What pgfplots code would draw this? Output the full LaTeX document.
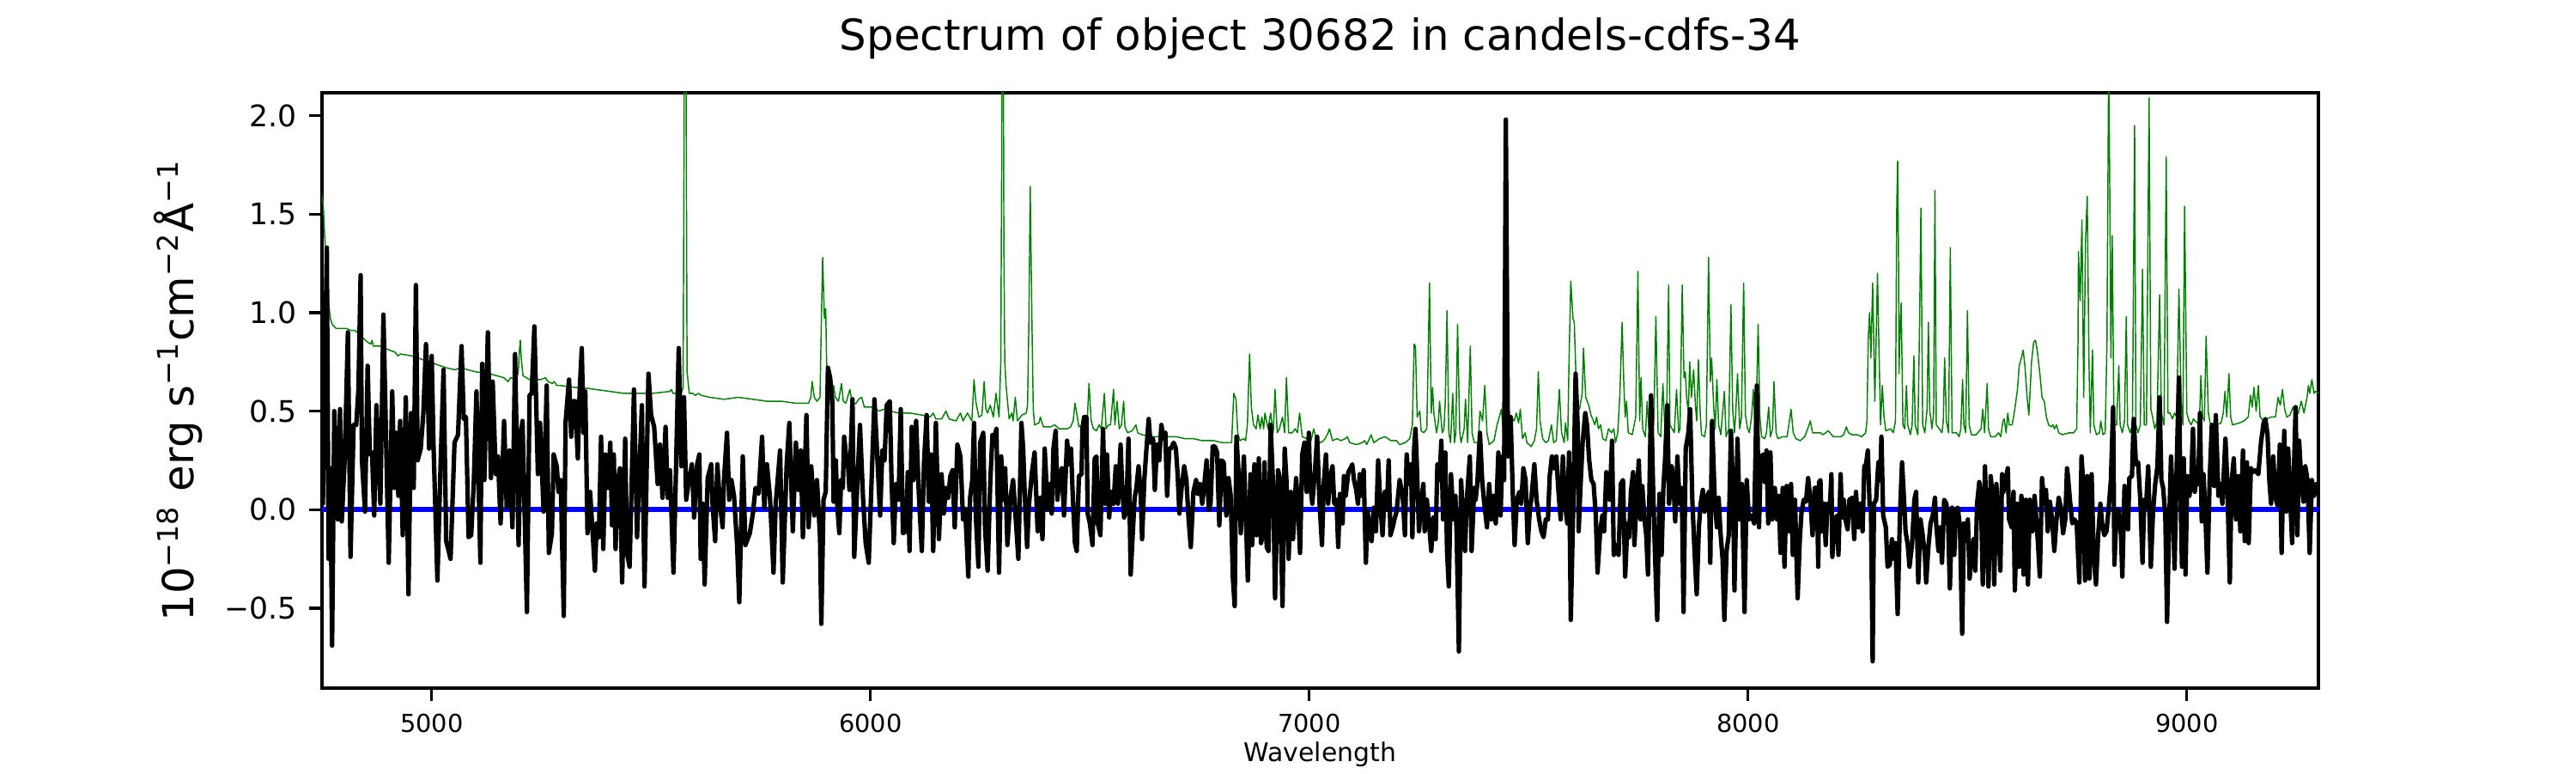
\documentclass[border=0pt]{standalone}
\usepackage{fontspec}
\setmainfont{DejaVu Sans}
\usepackage{pgfplots}
\pgfplotsset{compat=1.18}
\definecolor{mplgreen}{HTML}{008000}
\begin{document}
\begin{tikzpicture}
\useasboundingbox (0,0) rectangle (722.7pt,216.81pt);
\begin{axis}[
  at={(90.34pt,23.85pt)}, anchor=south west,
  width=560.1pt, height=166.95pt, scale only axis,
  xmin=4750, xmax=9300, ymin=-0.906, ymax=2.116,
  axis line style={line width=0.8pt},
  tick pos=left, tick align=outside,
  major tick length=3.5pt,
  every tick/.style={line width=0.8pt, black},
  xtick={5000,6000,7000,8000,9000},
  xticklabels={5000,6000,7000,8000,9000},
  ytick={-0.5,0,0.5,1,1.5,2},
  yticklabels={−0.5,0.0,0.5,1.0,1.5,2.0},
  xticklabel style={font=\fontsize{6.94}{8}\selectfont, inner sep=0pt, anchor=north, yshift=-3.5pt},
  yticklabel style={font=\fontsize{8.33}{10}\selectfont, inner sep=0pt, anchor=east, xshift=-3.5pt},
  title={Spectrum of object 30682 in candels-cdfs-34},
  title style={font=\fontsize{12}{14}\selectfont, at={(axis description cs:0.5,1.035)}, anchor=base, inner sep=0pt},
  xlabel={Wavelength},
  xlabel style={font=\fontsize{7.2}{8.5}\selectfont, at={(axis description cs:0.5,-0.124)}, anchor=base, inner sep=0pt},
  ylabel={10\textsuperscript{−18} erg s\textsuperscript{−1}cm\textsuperscript{−2}Å\textsuperscript{−1}},
  ylabel style={font=\fontsize{12}{14}\selectfont, at={(axis description cs:-0.0641,0.5)}, anchor=base, inner sep=0pt},
]
% sky / noise spectrum (green)
\addplot[mplgreen, line width=0.35pt, line join=round] coordinates {
(4750,1.60)(4753,1.54)(4756,1.39)(4760,1.25)(4763,1.11)(4766,1.03)(4769,0.97)(4773,0.94)(4782,0.92)(4792,0.92)(4805,0.92)(4815,0.91)(4825,0.91)(4835,0.89)(4844,0.87)(4854,0.85)(4861,0.84)(4864,0.86)(4867,0.83)(4883,0.83)(4903,0.81)(4916,0.80)(4923,0.78)(4929,0.79)(4955,0.78)(4981,0.76)(5007,0.74)(5033,0.72)(5053,0.71)(5066,0.72)(5099,0.70)(5131,0.69)(5164,0.67)(5174,0.65)(5180,0.67)(5190,0.66)(5197,0.69)(5200,0.81)(5202,0.86)(5204,0.77)(5208,0.68)(5223,0.66)(5249,0.66)(5259,0.67)(5265,0.65)(5275,0.64)(5279,0.65)(5285,0.63)(5294,0.63)(5327,0.62)
(5340,0.62)(5373,0.61)(5406,0.60)(5438,0.59)(5471,0.59)(5503,0.59)(5543,0.60)(5546,0.61)(5550,0.59)(5569,0.59)(5573,0.62)(5575,1.80)(5577,3.50)(5580,2.00)(5582,0.70)(5587,0.59)(5595,0.59)(5601,0.58)(5608,0.59)(5614,0.58)(5634,0.57)(5666,0.56)(5699,0.57)(5732,0.56)(5764,0.55)(5797,0.55)(5830,0.54)(5859,0.54)(5864,0.57)(5867,0.65)(5872,0.57)(5878,0.55)(5885,0.57)(5888,0.95)(5891,1.28)
(5895,0.97)(5898,1.02)(5900,0.75)(5905,0.57)(5911,0.59)(5916,0.63)(5920,0.57)(5927,0.55)(5934,0.64)(5938,0.55)(5944,0.54)(5953,0.61)(5959,0.53)(5967,0.54)(5973,0.56)(5980,0.57)(5986,0.52)(6006,0.52)(6019,0.50)(6032,0.51)(6045,0.50)(6064,0.49)(6090,0.49)(6117,0.48)(6136,0.47)(6143,0.49)(6149,0.46)(6162,0.46)(6172,0.50)(6179,0.46)(6195,0.45)(6205,0.49)(6211,0.45)(6221,0.49)(6231,0.45)(6236,0.66)(6240,0.55)(6247,0.47)(6254,0.48)(6259,0.65)(6263,0.51)(6267,0.49)(6273,0.53)(6280,0.47)(6286,0.59)(6293,0.47)(6297,0.75)(6299,1.75)(6300,3.50)(6302,3.00)(6304,1.35)(6306,0.75)(6309,0.63)(6316,0.46)(6322,0.49)(6325,0.45)(6330,0.57)(6335,0.45)(6345,0.48)(6355,0.49)(6358,0.53)(6361,0.95)(6364,1.64)(6368,0.95)(6371,0.51)(6374,0.43)(6384,0.44)(6387,0.47)(6394,0.42)(6410,0.42)(6420,0.43)(6430,0.41)(6449,0.41)
(6456,0.42)(6462,0.45)(6466,0.54)(6470,0.49)(6475,0.42)(6482,0.43)(6488,0.40)(6494,0.45)(6498,0.64)(6503,0.45)(6508,0.41)(6515,0.40)(6521,0.43)(6526,0.41)(6533,0.59)(6537,0.41)(6542,0.43)(6547,0.43)(6554,0.61)(6557,0.43)(6562,0.55)(6567,0.41)(6572,0.43)(6577,0.55)(6580,0.42)(6586,0.39)(6596,0.40)(6605,0.43)(6609,0.39)(6619,0.38)(6639,0.37)(6658,0.37)(6678,0.37)(6697,0.37)(6717,0.36)(6736,0.36)(6756,0.35)(6782,0.35)(6802,0.34)(6823,0.34)(6828,0.59)(6833,0.56)(6837,0.39)(6842,0.35)(6850,0.36)(6855,0.35)(6859,0.43)(6864,0.79)(6868,0.52)(6873,0.43)(6879,0.41)(6883,0.48)(6888,0.41)(6892,0.47)(6896,0.41)(6899,0.49)(6906,0.41)(6912,0.49)(6918,0.39)(6922,0.61)(6927,0.39)(6932,0.41)(6939,0.47)(6944,0.39)(6948,0.67)(6953,0.39)(6961,0.39)(6968,0.41)(6973,0.39)(6978,0.49)(6984,0.37)(6994,0.36)(7004,0.35)(7010,0.41)(7017,0.35)
(7027,0.34)(7036,0.36)(7043,0.39)(7046,0.41)(7053,0.35)(7063,0.36)(7072,0.35)(7082,0.36)(7087,0.37)(7092,0.34)(7108,0.33)(7121,0.34)(7126,0.35)(7131,0.33)(7141,0.38)(7147,0.34)(7160,0.36)(7173,0.37)(7186,0.35)(7199,0.35)(7206,0.33)(7219,0.34)(7229,0.36)(7235,0.43)(7239,0.84)(7242,0.83)(7246,0.47)(7252,0.50)(7255,0.40)(7261,0.39)(7268,0.41)(7274,1.15)(7278,0.49)(7281,0.62)(7284,0.49)(7290,0.39)(7294,0.44)(7297,0.55)(7303,0.39)(7307,0.41)(7310,0.55)(7314,1.01)(7318,0.39)(7322,0.34)(7327,0.59)(7331,0.34)(7334,0.39)(7338,0.94)(7343,0.39)(7346,0.34)(7353,0.41)(7356,0.56)(7361,0.34)(7367,0.83)(7371,0.39)(7376,0.34)(7385,0.34)(7389,0.50)(7395,0.45)(7400,0.63)(7405,0.39)(7410,0.33)(7421,0.35)(7428,0.43)(7438,0.51)(7444,0.34)(7454,0.41)(7460,0.47)(7467,0.45)(7472,0.49)(7477,0.44)(7481,0.51)(7486,0.36)(7492,0.39)(7496,0.34)(7506,0.32)(7513,0.35)(7518,0.41)(7522,0.70)(7526,0.45)(7532,0.36)(7539,0.34)(7545,0.35)(7552,0.43)(7557,0.34)(7563,0.35)(7570,0.61)(7575,0.39)(7581,0.34)(7584,0.44)(7589,0.35)(7592,0.75)
(7596,1.16)(7601,0.97)(7604,0.95)(7610,0.52)(7616,0.51)(7622,0.59)(7625,0.82)(7630,0.57)(7637,0.53)(7642,0.48)(7646,0.46)(7651,0.43)(7655,0.47)(7659,0.41)(7664,0.43)(7669,0.36)(7676,0.35)(7682,0.41)(7689,0.39)(7694,0.41)(7698,0.34)(7703,0.39)(7708,0.59)(7713,0.95)(7717,0.63)(7720,0.47)(7723,0.55)(7727,0.39)(7736,0.38)(7744,0.47)(7749,1.21)(7753,0.45)(7756,0.67)(7760,0.41)(7766,0.37)(7770,0.55)(7774,0.41)(7780,0.39)(7785,0.43)(7790,0.98)(7795,0.39)(7801,0.37)(7806,0.64)(7810,0.43)(7814,0.41)(7819,1.14)(7822,0.43)(7832,0.39)(7837,0.61)(7842,0.39)(7845,0.41)(7850,1.14)(7854,0.67)(7857,0.70)(7860,0.57)(7864,0.49)(7867,0.75)(7871,0.57)(7876,0.71)(7880,0.53)(7883,0.45)(7887,0.76)(7891,0.49)(7894,0.38)(7901,0.37)(7905,0.43)(7910,1.28)(7914,0.65)(7917,0.77)(7922,0.51)(7925,0.41)(7929,0.66)(7933,0.43)(7938,0.38)(7946,0.60)(7950,0.37)(7956,0.41)(7961,1.04)(7965,0.51)(7969,0.39)(7972,0.49)(7976,0.69)(7981,0.41)(7985,0.47)(7990,1.15)(7994,0.48)(7999,0.41)(8003,0.39)(8008,0.47)(8012,0.61)(8016,0.41)(8019,0.53)(8023,0.94)(8027,0.47)(8031,0.37)(8038,0.36)(8042,0.39)(8047,0.52)(8051,0.37)(8056,0.41)(8059,0.65)(8064,0.39)(8068,0.36)(8079,0.37)(8089,0.37)(8093,0.43)(8098,0.51)(8103,0.39)(8109,0.36)(8119,0.35)(8129,0.37)(8136,0.41)(8142,0.45)(8147,0.39)(8158,0.39)
(8165,0.39)(8171,0.38)(8183,0.40)(8194,0.37)(8211,0.37)(8218,0.38)(8224,0.42)(8229,0.39)(8237,0.38)(8250,0.38)(8259,0.37)(8268,0.39)(8271,0.45)(8274,0.87)(8277,1.00)(8280,0.77)(8284,1.15)(8289,0.55)(8292,0.87)(8295,1.20)(8299,0.75)(8302,0.43)(8306,0.63)(8310,0.47)(8314,0.40)(8325,0.41)(8331,0.39)(8336,0.45)(8339,1.55)(8341,1.77)(8343,1.25)(8344,0.69)(8347,0.95)(8349,1.05)(8353,0.43)(8357,0.41)(8361,0.63)(8364,0.43)(8370,0.38)(8374,0.43)(8378,0.78)(8381,0.43)(8387,0.38)(8391,0.95)(8394,1.53)(8398,0.43)(8403,0.39)(8408,0.51)(8411,0.95)(8414,0.51)(8419,0.41)(8423,0.49)(8426,1.62)(8429,0.43)(8436,0.41)(8442,0.39)(8445,0.45)(8448,0.77)(8452,0.45)(8457,0.39)(8461,1.33)(8465,0.39)(8475,0.39)(8481,0.37)(8485,0.41)(8489,0.66)(8492,0.43)(8496,0.39)(8500,1.01)(8504,0.43)(8509,0.38)(8520,0.38)(8531,0.41)(8535,0.51)(8539,0.39)(8545,0.64)(8548,0.41)(8553,0.37)(8563,0.37)(8571,0.39)(8576,0.37)(8581,0.45)(8584,0.46)(8588,0.39)(8592,0.49)(8595,0.43)(8602,0.43)(8608,0.51)(8614,0.61)(8618,0.73)(8623,0.77)(8627,0.81)(8631,0.73)(8636,0.57)(8640,0.48)(8643,0.61)(8646,0.75)(8651,0.85)(8655,0.86)(8659,0.81)(8662,0.75)(8666,0.67)(8670,0.57)(8675,0.55)(8680,0.47)(8685,0.43)(8690,0.42)(8695,0.43)(8698,0.41)(8703,0.43)(8708,0.39)(8716,0.38)(8732,0.39)
(8742,0.39)(8749,0.41)(8752,0.85)(8753,1.31)(8757,1.06)(8761,1.47)(8765,0.57)(8769,1.35)(8773,1.59)(8777,0.75)(8780,0.39)(8785,0.81)(8788,0.43)(8794,0.38)(8801,0.39)(8804,0.45)(8809,0.38)(8814,0.39)(8818,0.85)(8821,1.95)(8822,2.30)(8824,1.75)(8827,0.77)(8830,1.39)(8834,0.43)(8840,0.43)(8845,0.73)(8848,0.43)(8853,0.39)(8858,0.45)(8862,0.98)(8865,0.43)(8871,0.39)(8876,0.43)(8881,1.95)(8884,0.43)(8889,0.39)(8894,0.43)(8899,1.22)(8903,0.43)(8908,0.43)(8914,2.09)(8918,0.51)(8922,0.47)(8927,0.41)(8932,0.45)(8938,1.09)(8942,0.49)(8948,0.43)(8953,1.79)(8957,0.49)(8962,0.49)(8967,0.46)(8972,0.49)(8977,0.47)(8982,1.12)(8987,0.55)(8991,0.43)(8995,1.54)(9000,0.49)(9005,0.45)(9010,0.43)(9015,0.46)(9019,0.45)(9025,0.44)(9029,0.46)(9032,0.68)(9036,0.47)(9040,0.45)(9044,0.88)(9049,0.49)(9053,0.44)(9058,0.43)(9068,0.43)(9078,0.44)(9083,0.49)(9087,0.60)(9091,0.47)(9096,0.69)(9100,0.47)(9104,0.43)(9120,0.44)(9130,0.45)(9140,0.47)(9145,0.58)(9149,0.52)(9153,0.62)(9158,0.50)(9163,0.63)(9167,0.47)(9175,0.45)(9182,0.46)(9192,0.47)(9202,0.47)(9208,0.57)(9213,0.53)(9218,0.61)(9223,0.51)(9228,0.47)(9235,0.48)(9242,0.52)(9248,0.47)(9254,0.49)(9261,0.55)(9267,0.49)(9274,0.57)(9277,0.63)(9280,0.59)(9285,0.66)(9290,0.59)(9293,0.60)(9300,0.59)
};
% zero line (blue)
\addplot[blue, line width=1.5pt] coordinates {(4750,0) (9300,0)};
% object flux (black)
\addplot[black, line width=1.25pt, line join=round] coordinates {
(4750,0.05)(4752,0.03)(4761,1.33)(4765,-0.25)(4769,0.21)(4773,-0.69)(4778,0.50)(4782,0.23)(4786,-0.05)(4791,0.51)(4795,-0.06)(4802,0.27)(4809,0.90)(4815,-0.24)(4822,0.43)(4828,0.43)(4833,0.61)(4838,1.19)(4841,0.25)(4848,-0.01)(4854,0.73)(4859,0.28)(4864,0.29)(4869,-0.03)(4874,0.53)(4883,0.03)(4890,0.99)(4902,-0.27)(4910,0.60)(4915,0.11)(4919,0.39)(4924,0.07)(4928,0.45)(4934,-0.13)(4941,0.57)(4947,-0.43)(4953,0.49)(4959,0.11)(4964,1.14)(4968,0.25)(4975,0.31)(4981,0.49)(4987,0.84)(4991,0.63)(4994,0.31)(5000,0.78)(5004,0.34)(5013,-0.36)(5020,0.21)(5027,0.71)(5033,-0.16)(5043,-0.25)(5052,0.34)(5060,0.38)(5068,0.83)(5073,0.46)(5078,0.47)(5084,-0.14)(5090,-0.13)(5096,0.14)(5102,0.60)(5111,-0.27)(5115,0.74)(5120,0.15)(5128,0.90)(5135,0.16)(5139,0.65)(5146,0.18)(5151,0.27)(5157,-0.07)(5165,0.45)(5171,0.01)(5177,0.30)(5184,-0.09)(5190,0.79)(5198,-0.18)(5203,0.39)(5207,0.45)(5217,-0.52)(5223,0.58)(5228,0.59)(5234,0.93)(5242,0.18)(5247,0.44)(5255,-0.01)(5262,0.63)(5267,-0.22)(5274,-0.12)(5278,0.28)(5285,0.22)(5289,0.09)(5294,0.15)(5301,-0.54)(5305,0.44)
(5313,0.66)(5318,0.37)(5322,0.55)(5327,0.55)(5333,0.26)(5337,0.59)(5342,0.82)(5346,0.39)(5350,0.60)(5355,-0.12)(5361,0.09)(5366,-0.09)(5372,-0.31)(5376,-0.07)(5381,-0.14)(5386,0.37)(5391,-0.20)(5396,0.28)(5402,0.11)(5407,0.34)(5411,-0.08)(5415,0.28)(5419,-0.20)(5424,0.14)(5429,0.21)(5434,-0.37)(5441,0.36)(5445,-0.22)(5451,-0.29)(5461,0.61)(5468,-0.14)(5479,0.53)(5485,-0.39)(5494,0.69)(5500,0.48)(5507,0.42)(5515,0.13)(5520,0.33)(5526,0.06)(5533,0.42)(5538,0.06)(5543,0.20)(5551,-0.32)(5556,0.13)(5563,0.82)(5569,0.22)(5575,0.57)(5580,0.05)(5585,0.13)(5593,0.23)(5598,-0.04)(5605,0.23)(5610,0.28)(5613,-0.25)(5618,0.03)(5622,-0.38)(5629,0.16)(5637,0.23)(5640,0.03)(5646,-0.16)(5651,0.23)(5657,0.03)(5663,-0.09)(5666,0.15)(5673,0.39)(5678,0.05)(5683,0.15)(5689,0.07)(5696,-0.18)(5701,-0.47)(5709,0.27)(5715,-0.18)(5725,-0.12)(5732,-0.02)(5738,0.11)(5745,0.08)(5753,0.37)(5758,0.01)(5764,0.23)(5771,0.06)(5779,-0.32)(5784,0.03)(5794,0.30)(5800,-0.37)(5809,0.23)(5815,0.44)(5823,-0.11)(5830,0.34)(5836,0.10)(5841,0.30)(5846,-0.14)(5854,0.48)(5859,-0.09)(5865,0.22)(5872,-0.03)(5878,0.15)(5885,-0.14)(5888,-0.58)
(5893,0.05)(5898,0.09)(5903,0.72)(5908,0.67)(5913,0.55)(5916,0.04)(5921,0.25)(5924,0.03)(5929,-0.12)(5933,0.15)(5937,0.11)(5940,0.37)(5946,0.24)(5948,0.26)(5952,0.10)(5959,0.56)(5963,-0.24)(5970,0.13)(5976,0.43)(5983,0.06)(5989,-0.17)(5996,-0.27)(6001,0.05)(6009,0.56)(6014,0.34)(6022,-0.03)(6027,0.30)(6032,0.25)(6037,0.53)(6044,0.55)(6048,0.15)(6053,-0.17)(6058,0.13)(6064,0.05)(6069,0.51)(6074,-0.12)(6081,-0.11)(6085,0.19)(6089,-0.21)(6094,0.42)(6098,0.15)(6104,0.45)(6110,0.09)(6117,-0.21)(6122,0.24)(6128,0.48)(6133,0.04)(6138,0.28)(6143,-0.21)(6149,0.44)(6156,-0.15)(6162,0.18)(6167,-0.02)(6172,0.11)(6177,0.06)(6182,0.17)(6187,0.20)(6192,-0.09)(6198,0.33)(6205,0.27)(6211,-0.05)(6216,0.00)(6223,-0.34)(6227,0.06)(6232,0.15)(6236,0.44)(6240,-0.03)(6246,-0.29)(6250,0.34)(6257,0.39)(6261,-0.09)(6267,-0.31)(6273,0.14)(6278,0.38)(6283,0.37)(6287,0.41)(6293,-0.32)(6298,0.27)(6302,0.05)(6307,0.21)(6312,-0.18)(6319,0.06)(6325,0.15)(6330,-0.01)(6337,-0.25)(6344,0.44)(6348,0.31)(6351,0.11)(6357,-0.19)(6361,0.02)(6368,0.19)(6374,0.29)(6381,-0.11)(6387,0.06)(6392,-0.15)(6397,0.31)(6404,0.00)(6409,0.13)(6413,-0.02)(6417,0.31)(6422,0.40)(6426,0.05)(6431,0.17)(6436,0.21)(6441,-0.03)
(6448,0.35)(6453,0.23)(6457,0.31)(6461,0.07)(6466,-0.17)(6470,-0.21)(6475,0.17)(6481,0.18)(6483,0.41)(6487,0.47)(6492,0.47)(6495,-0.02)(6500,-0.07)(6506,-0.18)(6511,0.26)(6515,0.27)(6518,-0.07)(6524,-0.13)(6530,0.41)(6534,0.03)(6539,0.28)(6544,-0.04)(6548,0.09)(6554,0.03)(6559,0.22)(6564,0.03)(6570,0.33)(6573,0.15)(6578,-0.04)(6583,-0.01)(6588,0.36)(6593,-0.33)(6598,-0.11)(6602,0.06)(6606,0.11)(6611,0.22)(6616,0.07)(6619,-0.15)(6624,0.15)(6629,0.31)(6634,0.46)(6638,0.34)(6644,0.36)(6648,0.10)(6653,0.33)(6658,0.25)(6663,0.43)(6668,0.36)(6672,0.39)(6676,0.07)(6681,0.31)(6685,0.31)(6691,0.34)(6696,0.31)(6700,0.18)(6704,-0.02)(6709,0.11)(6715,0.22)(6720,0.15)(6725,-0.05)(6730,-0.19)(6736,0.09)(6742,0.15)(6746,0.08)(6751,0.13)(6756,0.03)(6761,0.13)(6766,0.25)(6771,0.00)(6775,0.03)(6780,0.32)(6785,0.32)(6790,0.29)(6795,-0.08)(6800,0.25)(6805,0.24)(6811,-0.03)(6816,0.16)(6821,0.07)(6826,-0.35)(6830,-0.49)(6834,0.37)(6841,0.11)(6844,-0.12)(6851,0.27)(6855,0.00)(6860,-0.36)(6866,0.18)(6870,-0.18)(6875,0.23)(6880,-0.13)(6885,0.26)(6890,-0.17)(6894,-0.13)(6898,0.24)(6903,-0.19)(6907,-0.21)(6912,0.43)(6918,0.10)(6922,-0.45)(6929,0.20)(6933,0.16)(6939,-0.49)(6944,0.31)(6948,0.15)(6953,-0.25)(6958,0.09)(6963,-0.15)(6970,0.16)(6974,0.03)(6979,-0.22)(6984,0.28)(6989,0.34)(6994,0.09)(6999,0.39)(7002,0.13)(7007,0.03)(7014,0.23)
(7018,0.37)(7023,0.05)(7029,-0.18)(7033,0.13)(7038,0.28)(7043,0.03)(7047,0.15)(7053,0.22)(7057,0.03)(7062,0.05)(7066,-0.19)(7070,0.08)(7076,-0.07)(7079,0.17)(7083,0.07)(7089,0.19)(7094,0.21)(7098,0.23)(7102,0.15)(7107,0.10)(7111,0.03)(7115,0.18)(7120,0.07)(7124,0.20)(7129,-0.27)(7133,-0.01)(7137,-0.09)(7142,-0.16)(7147,0.01)(7152,-0.11)(7157,0.25)(7162,0.03)(7167,-0.13)(7172,0.09)(7177,0.00)(7181,0.25)(7185,-0.13)(7190,-0.09)(7194,-0.05)(7199,-0.01)(7206,0.15)(7213,0.07)(7218,-0.13)(7222,0.28)(7227,0.13)(7232,0.23)(7235,-0.14)(7239,0.31)(7242,0.41)(7245,0.24)(7250,-0.11)(7255,0.03)(7260,0.13)(7263,-0.11)(7268,0.05)(7273,-0.07)(7278,-0.21)(7283,-0.04)(7288,-0.15)(7292,0.23)(7297,0.15)(7301,0.35)(7305,-0.05)(7310,0.29)(7314,-0.21)(7318,-0.39)(7323,0.18)(7329,-0.05)(7333,0.07)(7336,-0.13)(7341,-0.72)(7346,0.15)(7351,-0.07)(7355,-0.21)(7359,0.05)(7366,0.27)(7370,-0.21)(7376,0.11)(7379,0.05)(7383,0.13)(7389,0.39)(7394,0.15)(7398,0.05)(7405,-0.09)(7410,0.13)(7415,-0.05)(7420,0.07)(7425,-0.07)(7431,0.29)(7436,-0.03)(7440,0.27)(7444,0.15)(7448,1.98)(7453,0.27)(7459,0.47)(7464,0.07)(7468,-0.18)(7473,0.05)(7479,0.09)(7483,0.03)(7488,0.21)(7493,0.15)(7498,-0.17)(7503,0.01)(7506,0.05)(7513,0.23)(7518,0.05)(7524,-0.05)(7529,-0.11)(7534,-0.14)(7539,-0.05)(7544,-0.05)(7548,0.17)(7553,0.27)(7558,0.21)(7563,0.27)(7568,0.09)(7573,-0.05)(7578,0.27)(7583,0.03)(7588,-0.07)(7592,0.29)(7596,-0.56)
(7601,-0.05)(7607,0.69)(7612,0.41)(7614,-0.11)(7618,0.11)(7623,0.34)(7629,0.49)(7633,0.43)(7638,0.25)(7643,0.15)(7648,0.13)(7653,-0.03)(7657,-0.32)(7663,-0.11)(7668,-0.03)(7672,-0.11)(7677,0.19)(7681,0.14)(7685,0.05)(7690,0.35)(7694,-0.23)(7700,-0.18)(7705,-0.23)(7710,0.13)(7715,0.15)(7720,-0.34)(7725,-0.07)(7729,-0.14)(7733,0.09)(7738,0.19)(7741,-0.18)(7746,0.05)(7751,0.25)(7755,-0.05)(7759,0.12)(7764,-0.05)(7768,-0.13)(7772,-0.33)(7779,0.58)(7784,0.07)(7788,-0.23)(7793,-0.56)(7798,0.08)(7803,-0.23)(7807,0.11)(7811,0.26)(7816,0.53)(7820,0.03)(7826,0.22)(7830,0.14)(7834,-0.06)(7839,0.27)(7844,0.03)(7849,0.11)(7853,-0.52)(7858,0.31)(7864,0.39)(7868,0.51)(7873,0.05)(7878,-0.21)(7883,-0.43)(7888,-0.09)(7892,0.03)(7897,0.10)(7901,-0.01)(7904,0.05)(7911,0.09)(7914,-0.27)(7918,0.45)(7924,0.06)(7929,-0.09)(7933,0.06)(7937,-0.11)(7942,-0.25)(7946,-0.56)(7951,-0.21)(7956,-0.13)(7961,0.40)(7966,0.09)(7969,-0.41)(7976,0.36)(7981,-0.05)(7986,0.13)(7989,-0.21)(7992,-0.52)(7997,0.15)(8002,-0.05)(8008,-0.03)(8014,-0.07)(8020,0.63)(8025,-0.09)(8029,0.26)(8034,0.28)(8038,0.14)(8042,0.30)(8046,-0.07)(8051,0.29)(8055,-0.05)(8061,0.11)(8066,-0.05)(8070,0.07)(8074,-0.22)(8079,0.11)(8083,-0.29)(8088,0.12)(8093,-0.11)(8098,0.13)(8102,-0.23)(8107,0.05)(8113,-0.45)(8118,-0.15)(8122,-0.01)(8127,0.05)(8132,0.04)(8137,0.16)(8142,0.05)(8147,-0.13)(8152,0.11)(8157,0.11)(8160,-0.29)
(8162,0.14)(8165,0.15)(8168,-0.11)(8173,0.03)(8177,-0.18)(8181,0.03)(8186,-0.01)(8190,0.18)(8192,-0.24)(8198,-0.05)(8203,-0.03)(8206,-0.23)(8211,0.18)(8214,-0.04)(8218,0.05)(8222,-0.05)(8227,-0.10)(8231,0.05)(8237,0.06)(8242,-0.15)(8246,0.09)(8251,-0.09)(8256,0.03)(8261,-0.11)(8265,0.22)(8269,0.23)(8273,0.30)(8277,0.02)(8280,0.03)(8284,-0.77)(8287,0.03)(8292,0.05)(8297,0.24)(8301,0.15)(8304,0.37)(8308,-0.03)(8314,-0.09)(8318,-0.29)(8323,-0.28)(8328,-0.15)(8333,-0.25)(8336,-0.17)(8341,-0.53)(8346,-0.04)(8351,0.24)(8355,0.07)(8359,-0.11)(8364,-0.18)(8368,-0.29)(8374,-0.17)(8379,0.05)(8383,0.09)(8388,-0.37)(8393,-0.05)(8398,-0.13)(8403,-0.23)(8406,-0.37)(8411,-0.19)(8416,-0.07)(8421,-0.03)(8426,0.06)(8429,-0.08)(8434,-0.21)(8438,-0.09)(8442,-0.27)(8447,0.05)(8452,0.03)(8456,-0.07)(8460,-0.40)(8465,0.01)(8470,-0.23)(8474,0.00)(8478,0.01)(8483,-0.09)(8488,-0.63)(8492,-0.07)(8496,-0.16)(8501,-0.05)(8505,-0.35)(8509,-0.24)(8514,-0.15)(8518,-0.31)(8522,0.03)(8527,0.14)(8531,0.05)(8535,-0.38)(8540,0.22)(8545,-0.19)(8548,-0.39)(8553,0.17)(8558,0.05)(8561,-0.38)(8566,0.13)(8571,-0.09)(8575,-0.31)(8579,0.18)(8582,0.09)(8588,0.16)(8592,0.21)(8595,-0.05)(8601,-0.09)(8605,0.09)(8608,-0.41)(8614,0.03)(8618,-0.29)(8623,0.07)(8628,-0.33)(8633,0.05)(8638,-0.38)(8642,0.05)(8648,-0.11)(8653,0.07)(8657,-0.05)(8661,-0.18)(8665,-0.34)(8670,0.16)(8675,0.03)(8679,0.10)(8683,-0.11)(8688,0.04)(8693,-0.05)(8698,-0.21)(8703,-0.05)(8708,0.06)(8713,0.01)(8718,-0.12)(8723,-0.05)(8727,0.21)
(8729,0.17)(8734,0.04)(8739,-0.07)(8744,-0.05)(8749,-0.07)(8755,-0.37)(8760,0.27)(8764,0.13)(8768,-0.36)(8773,0.17)(8778,-0.35)(8783,0.18)(8788,-0.25)(8793,-0.38)(8798,-0.13)(8803,0.03)(8807,-0.07)(8812,-0.13)(8817,-0.11)(8822,0.01)(8827,0.15)(8832,0.52)(8835,-0.28)(8840,0.00)(8845,-0.01)(8850,-0.13)(8853,-0.34)(8858,0.12)(8862,0.07)(8866,-0.10)(8869,0.16)(8875,0.17)(8879,0.46)(8884,0.23)(8889,0.24)(8894,0.05)(8899,-0.27)(8903,0.05)(8907,0.01)(8912,0.22)(8918,-0.29)(8923,-0.01)(8928,0.13)(8933,0.22)(8938,0.57)(8942,0.15)(8946,0.11)(8951,-0.03)(8955,-0.57)(8959,-0.13)(8964,0.27)(8968,0.03)(8972,-0.30)(8977,0.23)(8982,0.67)(8985,0.15)(8989,-0.29)(8993,0.26)(8997,-0.33)(9001,0.17)(9006,0.07)(9010,0.15)(9014,0.41)(9018,0.09)(9023,0.17)(9026,0.13)(9030,0.49)(9034,-0.06)(9038,0.18)(9042,-0.01)(9047,-0.32)(9052,0.15)(9057,0.43)(9062,0.12)(9066,0.48)(9072,0.07)(9077,0.13)(9081,0.03)(9088,0.36)(9092,0.15)(9098,-0.37)(9102,0.14)(9107,0.26)(9112,-0.05)(9117,0.17)(9122,-0.11)(9128,0.30)(9132,-0.16)(9137,0.24)(9141,-0.17)(9146,0.21)(9150,0.19)(9156,0.20)(9163,0.18)(9169,0.34)(9175,0.44)(9179,0.46)(9184,0.38)(9188,0.15)(9192,0.03)(9197,0.27)(9202,0.06)(9207,0.02)(9212,0.33)(9216,-0.22)(9222,0.40)(9227,-0.01)(9231,0.31)(9236,0.04)(9240,-0.17)(9244,0.20)(9248,0.52)(9252,-0.13)(9256,0.35)(9261,0.14)(9266,0.04)(9270,0.22)(9275,0.15)(9280,-0.22)(9285,0.15)(9290,0.07)(9295,0.13)(9300,0.11)
};
\end{axis}
\end{tikzpicture}
\end{document}
